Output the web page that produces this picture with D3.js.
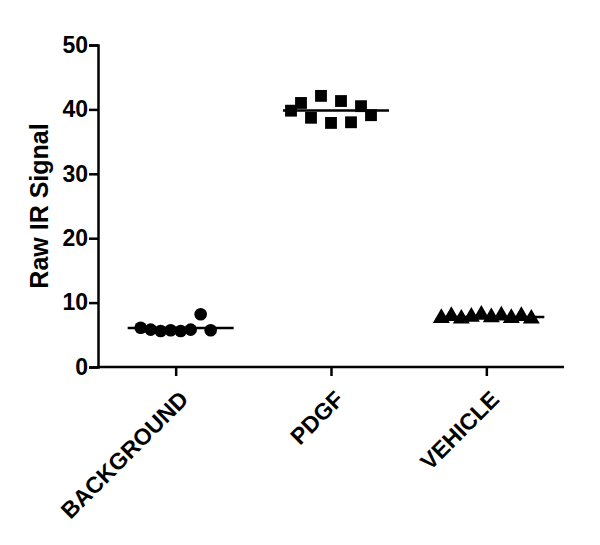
<!DOCTYPE html>
<html>
<head>
<meta charset="utf-8">
<title>Raw IR Signal</title>
<script src="https://d3js.org/d3.v7.min.js"></script>
<style>
  body { margin: 0; background: #fff; }
  text { font-family: "Liberation Sans", Arial, sans-serif; font-weight: bold; fill: #000; }
</style>
</head>
<body>
<script>
// data
var categories = ["BACKGROUND", "PDGF", "VEHICLE"]
var background = [6.1, 5.8, 5.6, 5.7, 5.6, 5.8, 8.2, 5.7]
var pdgf = [39.8, 41.0, 38.7, 42.1, 37.9, 41.3, 38.0, 40.5, 39.1]
var vehicle = [7.6, 7.9, 7.5, 7.8, 8.1, 7.7, 8.0, 7.6, 7.9, 7.5]
var yTicks = [0, 10, 20, 30, 40, 50]

var groups = [background, pdgf, vehicle]
var shapes = [d3.symbolCircle, d3.symbolSquare, d3.symbolTriangle]

var width = 600, height = 545
var margin = {top: 45, right: 36, bottom: 178, left: 98}

var svg = d3.select("body").append("svg")
    .attr("width", width)
    .attr("height", height)

var x = d3.scalePoint()
    .domain(categories)
    .range([margin.left, width - margin.right])
    .padding(0.5)

var y = d3.scaleLinear()
    .domain([0, 50])
    .range([height - margin.bottom, margin.top])

// axes
var yAxis = svg.append("g")
    .attr("transform", "translate(" + margin.left + ",0)")
    .call(d3.axisLeft(y).tickValues(yTicks).tickSizeOuter(0).tickSize(9).tickPadding(1))
yAxis.selectAll("text").style("font-size", "23px")

var xAxis = svg.append("g")
    .attr("transform", "translate(0," + y(0) + ")")
    .call(d3.axisBottom(x).tickSizeOuter(0).tickSize(9))
xAxis.select(".domain").attr("d", "M" + (margin.left - 1) + ",0H" + (width - margin.right))
xAxis.selectAll("text")
    .style("font-size", "23px")
    .attr("text-anchor", "end")
    .attr("dy", "0.35em")
    .attr("y", 0)
    .attr("transform", "translate(8,28) rotate(-45)")

svg.selectAll(".domain, .tick line").attr("stroke", "#000").attr("stroke-width", 2.5)

svg.append("text")
    .attr("transform", "translate(48," + y(25) + ") rotate(-90)")
    .attr("text-anchor", "middle")
    .style("font-size", "25px")
    .text("Raw IR Signal")

// points, spread sideways around each category
var step = 10
groups.forEach(function(vals, gi) {
  var cx = x(categories[gi])
  var sym = d3.symbol().type(shapes[gi]).size(gi == 1 ? 140 : 125)
  svg.append("g").selectAll("path")
    .data(vals)
    .enter().append("path")
    .attr("d", sym)
    .attr("fill", "#000")
    .attr("transform", function(d, i) {
      return "translate(" + (cx + (i - (vals.length - 1) / 2) * step) + "," + y(d) + ")"
    })

  // mean line
  var m = d3.mean(vals)
  svg.append("line")
    .attr("x1", cx - 48).attr("x2", cx + 58)
    .attr("y1", y(m)).attr("y2", y(m))
    .attr("stroke", "#000").attr("stroke-width", 2.5)
})
</script>
</body>
</html>
